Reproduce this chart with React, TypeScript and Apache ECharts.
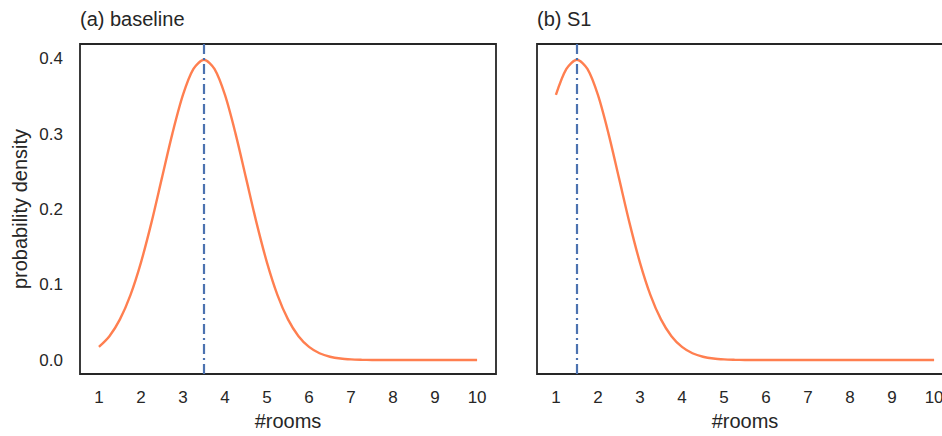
import React, { useEffect, useRef } from "react";
import * as echarts from "echarts";

const ROOMS: number[] = [
  1, 1.25, 1.5, 1.75, 2, 2.25, 2.5, 2.75, 3, 3.25, 3.5, 3.75, 4, 4.25, 4.5, 4.75,
  5, 5.25, 5.5, 5.75, 6, 6.25, 6.5, 6.75, 7, 7.25, 7.5, 7.75, 8, 8.25, 8.5, 8.75,
  9, 9.25, 9.5, 9.75, 10,
];

const BASELINE_DENSITY: number[] = [
  0.0175, 0.0317, 0.054, 0.0863, 0.1295, 0.1826, 0.242, 0.3011, 0.3521, 0.3867,
  0.3989, 0.3867, 0.3521, 0.3011, 0.242, 0.1826, 0.1295, 0.0863, 0.054, 0.0317,
  0.0175, 0.0091, 0.0044, 0.002, 0.0009, 0.0004, 0.0001, 0, 0, 0, 0, 0, 0, 0, 0,
  0, 0,
];

const S1_DENSITY: number[] = [
  0.3521, 0.3867, 0.3989, 0.3867, 0.3521, 0.3011, 0.242, 0.1826, 0.1295, 0.0863,
  0.054, 0.0317, 0.0175, 0.0091, 0.0044, 0.002, 0.0009, 0.0004, 0.0001, 0, 0, 0,
  0, 0, 0, 0, 0, 0, 0, 0, 0, 0, 0, 0, 0, 0, 0,
];

const MEANS: number[] = [3.5, 1.5];
const TITLES: string[] = ["(a) baseline", "(b) S1"];
const X_TICKS: number[] = [1, 2, 3, 4, 5, 6, 7, 8, 9, 10];
const Y_TICKS: number[] = [0, 0.1, 0.2, 0.3, 0.4];

const FONT = "Liberation Sans, Arial, Helvetica, sans-serif";
const TEXT_COLOR = "#262626";
const CURVE_COLOR = "#FF7F50";
const MEAN_COLOR = "#4C72B0";

export default function App() {
  const ref = useRef<HTMLDivElement>(null);

  useEffect(() => {
    if (!ref.current) return;
    const chart = echarts.init(ref.current, undefined, { renderer: "svg" });
    const grids = [
      { left: 80, top: 44, width: 416, height: 332 },
      { left: 537, top: 44, width: 416, height: 332 },
    ];
    const series = [BASELINE_DENSITY, S1_DENSITY];

    chart.setOption({
      animation: false,
      backgroundColor: "#ffffff",
      textStyle: { fontFamily: FONT },
      title: TITLES.map((t, i) => ({
        text: t,
        left: grids[i].left - 5,
        top: 4,
        textStyle: { fontFamily: FONT, fontSize: 20, fontWeight: "normal", color: TEXT_COLOR },
      })),
      grid: grids.map((g) => ({
        ...g,
        show: true,
        borderColor: TEXT_COLOR,
        borderWidth: 1.8,
        backgroundColor: "transparent",
      })),
      xAxis: grids.map((_, i) => ({
        type: "value",
        gridIndex: i,
        min: 0.55,
        max: 10.45,
        name: "#rooms",
        nameLocation: "middle",
        nameGap: 37,
        nameTextStyle: { fontFamily: FONT, fontSize: 20, color: TEXT_COLOR },
        axisLine: { show: false },
        axisTick: { show: false },
        splitLine: { show: false },
        axisLabel: {
          customValues: X_TICKS,
          margin: 15,
          fontFamily: FONT,
          fontSize: 17,
          color: TEXT_COLOR,
          showMinLabel: true,
          showMaxLabel: true,
        },
      })),
      yAxis: grids.map((_, i) => ({
        type: "value",
        gridIndex: i,
        min: -0.0185,
        max: 0.4198,
        name: i === 0 ? "probability density" : "",
        nameLocation: "middle",
        nameGap: 50,
        nameTextStyle: { fontFamily: FONT, fontSize: 20, color: TEXT_COLOR },
        axisLine: { show: false },
        axisTick: { show: false },
        splitLine: { show: false },
        axisLabel: {
          show: i === 0,
          customValues: Y_TICKS,
          formatter: (v: number) => v.toFixed(1),
          margin: 17,
          fontFamily: FONT,
          fontSize: 17,
          color: TEXT_COLOR,
        },
      })),
      series: series.map((vals, i) => ({
        type: "line",
        xAxisIndex: i,
        yAxisIndex: i,
        data: ROOMS.map((x, k) => [x, vals[k]]),
        smooth: 0.3,
        showSymbol: false,
        symbol: "none",
        lineStyle: { color: CURVE_COLOR, width: 2.4 },
        markLine: {
          silent: true,
          symbol: "none",
          label: { show: false },
          lineStyle: { color: MEAN_COLOR, width: 2.2, type: [10, 4, 2, 4] },
          data: [{ xAxis: MEANS[i] }],
        },
      })),
    });

    return () => chart.dispose();
  }, []);

  return (
    <div
      style={{ position: "fixed", left: 0, top: 0, width: 942, height: 436, overflow: "hidden", background: "#fff" }}
    >
      <div ref={ref} style={{ width: 970, height: 436 }} />
    </div>
  );
}
